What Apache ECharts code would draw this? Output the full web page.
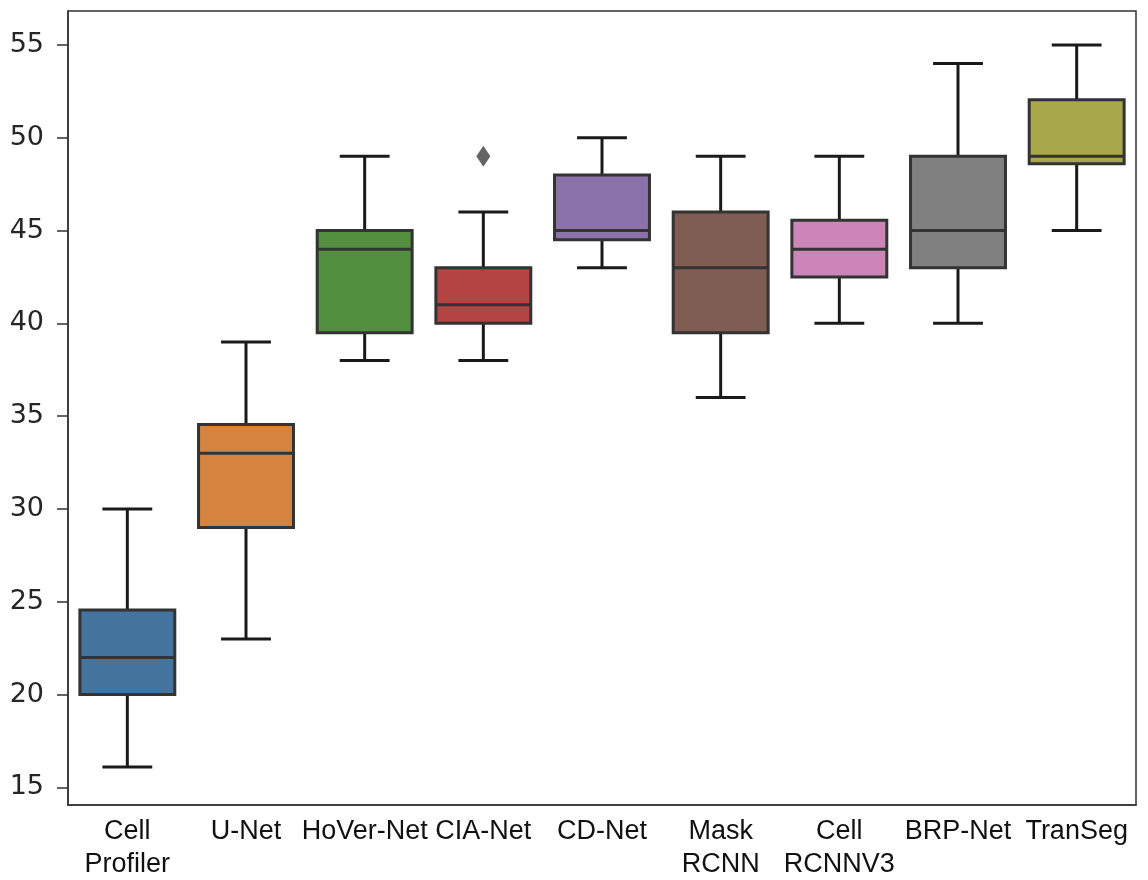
<!DOCTYPE html>
<html>
<head>
<meta charset="utf-8">
<script src="https://cdn.jsdelivr.net/npm/echarts@6/dist/echarts.min.js"></script>
<style>
  html, body { margin: 0; padding: 0; background: #fff; }
  #chart { width: 1148px; height: 880px; }
</style>
</head>
<body>
<div id="chart"></div>
<script>
const categories = ['Cell\nProfiler', 'U-Net', 'HoVer-Net', 'CIA-Net', 'CD-Net', 'Mask\nRCNN', 'Cell\nRCNNV3', 'BRP-Net', 'TranSeg']
const whiskerLow = [16.1, 23, 38, 38, 43, 36, 40, 40, 45]
const q1 = [20, 29, 39.5, 40, 44.5, 39.5, 42.5, 43, 48.6]
const median = [22, 33, 44, 41, 45, 43, 44, 45, 49]
const q3 = [24.55, 34.55, 45, 43, 48, 46, 45.55, 49, 52.05]
const whiskerHigh = [30, 39, 49, 46, 50, 49, 49, 54, 55]
const outliers = [[3, 49]]
const yTicks = [15, 20, 25, 30, 35, 40, 45, 50, 55]

const boxColors = ['#44749e', '#d5843f', '#52903f', '#b24541', '#8c72ab', '#7f5d53', '#cc85b8', '#808080', '#a8a84a']

const boxData = categories.map((c, i) => [i, whiskerLow[i], q1[i], median[i], q3[i], whiskerHigh[i]])

const renderBox = (params, api) => {
  const i = api.value(0)
  const band = api.size([1, 0])[0]
  const half = band * 0.4
  const cap = band * 0.21
  const pLow = api.coord([i, api.value(1)])
  const pQ1 = api.coord([i, api.value(2)])
  const pMed = api.coord([i, api.value(3)])
  const pQ3 = api.coord([i, api.value(4)])
  const pHigh = api.coord([i, api.value(5)])
  const x = pQ1[0]
  const whisker = { stroke: '#1a1a1a', lineWidth: 3 }
  const edge = { stroke: '#333', lineWidth: 3 }
  return {
    type: 'group',
    children: [
      { type: 'line', shape: { x1: x, y1: pQ1[1], x2: x, y2: pLow[1] }, style: whisker },
      { type: 'line', shape: { x1: x, y1: pQ3[1], x2: x, y2: pHigh[1] }, style: whisker },
      { type: 'line', shape: { x1: x - cap, y1: pLow[1], x2: x + cap, y2: pLow[1] }, style: whisker },
      { type: 'line', shape: { x1: x - cap, y1: pHigh[1], x2: x + cap, y2: pHigh[1] }, style: whisker },
      {
        type: 'rect',
        shape: { x: x - half, y: pQ3[1], width: half * 2, height: pQ1[1] - pQ3[1] },
        style: Object.assign({ fill: boxColors[i] }, edge)
      },
      { type: 'line', shape: { x1: x - half, y1: pMed[1], x2: x + half, y2: pMed[1] }, style: edge }
    ]
  }
}

const chart = echarts.init(document.getElementById('chart'))

chart.setOption({
  backgroundColor: '#fff',
  animation: false,
  grid: {
    left: 68,
    right: 12,
    top: 11,
    bottom: 75,
    show: true,
    borderColor: '#333',
    borderWidth: 1.5,
    outerBoundsMode: 'none'
  },
  xAxis: {
    type: 'category',
    data: categories,
    boundaryGap: true,
    axisLine: { lineStyle: { color: '#333', width: 1.5 } },
    axisTick: { alignWithLabel: true, length: 9, lineStyle: { color: '#333', width: 1.5 } },
    axisLabel: {
      color: '#111',
      fontFamily: 'Liberation Sans',
      fontSize: 27,
      lineHeight: 33,
      margin: 10,
      interval: 0
    }
  },
  yAxis: {
    type: 'value',
    min: 14.05,
    max: 56.83,
    splitLine: { show: false },
    axisLine: { show: true, lineStyle: { color: '#333', width: 1.5 } },
    axisTick: { show: true, length: 11, customValues: yTicks, lineStyle: { color: '#333', width: 1.5 } },
    axisLabel: {
      color: '#262626',
      fontFamily: 'DejaVu Sans',
      fontSize: 27,
      margin: 24,
      customValues: yTicks
    }
  },
  series: [
    {
      type: 'custom',
      renderItem: renderBox,
      encode: { x: 0, y: [1, 2, 3, 4, 5] },
      data: boxData
    },
    {
      type: 'scatter',
      symbol: 'diamond',
      symbolSize: [14, 21],
      itemStyle: { color: '#3d3d3d' },
      data: outliers
    }
  ]
})
</script>
</body>
</html>
